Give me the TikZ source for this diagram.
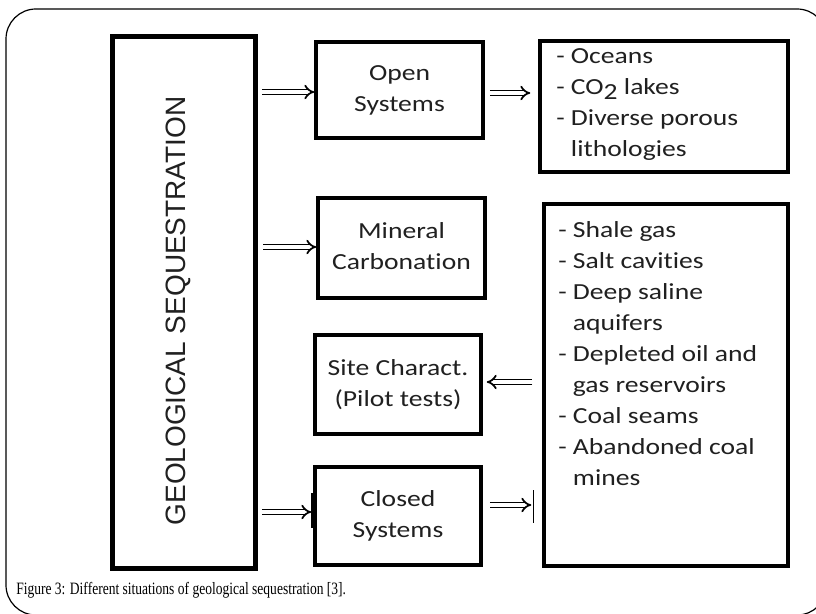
\documentclass[tikz,border=0pt]{standalone}
\usepackage{fontspec}
\setmainfont{Carlito}[Ligatures={NoCommon}]
\newfontfamily\capfont{Liberation Serif}
\newfontfamily\titlefont{Liberation Sans}
\usetikzlibrary{arrows.meta,calc}
\newcommand\pxu{0.75pt}
\newcommand\boxfont{\fontsize{17.25pt}{23.25pt}\selectfont}
\newcommand\wide[1]{\scalebox{1.2}[1]{#1}}
\definecolor{txt}{RGB}{32,32,32}

\begin{document}
\begin{tikzpicture}[x=\pxu, y=-\pxu,
  panel/.style={draw, line width=3.5*\pxu, inner sep=0pt, text=txt},
  listtext/.style={anchor=base west, inner sep=0pt, text=txt},
  dbl/.style={double, double distance=2.3pt, line width=1.3pt, -{Implies}},
  endbar/.style={line width=1.6pt}]
  \useasboundingbox (0,0) rectangle (816,613);
  \fill[white] (0,0) rectangle (816,613);
  \clip (0,0) rectangle (816,613);

  % rounded frame around figure and caption
  \draw[line width=0.9pt, rounded corners=22.5pt] (6,9) rectangle (827,615);

  % main vertical box
  \node[panel, line width=5*\pxu, minimum width=143*\pxu, minimum height=532*\pxu] (big) at (184,302.5) {};
  \node[rotate=90, inner sep=0pt, text=txt] (title) at (178,311)
    {\titlefont\fontsize{21pt}{25pt}\selectfont GEOLOGICAL SEQUESTRATION};

  % middle column
  \node[panel, minimum width=167*\pxu, minimum height=96*\pxu] (open) at (399.5,90)
    {\boxfont\wide{\begin{tabular}{@{}c@{}}Open\\Systems\end{tabular}}};
  \node[panel, minimum width=167*\pxu, minimum height=100*\pxu] (mineral) at (401.5,248)
    {\boxfont\wide{\begin{tabular}{@{}c@{}}Mineral\\Carbonation\end{tabular}}};
  \node[panel, minimum width=166*\pxu, minimum height=99*\pxu] (site) at (398,384.5)
    {\boxfont\wide{\begin{tabular}{@{}c@{}}Site Charact.\\(Pilot tests)\end{tabular}}};
  \node[panel, minimum width=166*\pxu, minimum height=98*\pxu] (closed) at (398,516)
    {\boxfont\wide{\begin{tabular}{@{}c@{}}Closed\\Systems\end{tabular}}};

  % right column
  \node[panel, minimum width=248*\pxu, minimum height=131*\pxu] (rtop) at (664,106.5) {};
  \node[panel, minimum width=244*\pxu, minimum height=362*\pxu] (rbot) at (666,385) {};

  \node[listtext] (toplist) at (556,64)
    {\boxfont\wide{\begin{tabular}[t]{@{}l@{}}- Oceans\\
      - CO\raisebox{-3.5pt}{2} lakes\\
      - Diverse porous\\
      \hphantom{- }lithologies\end{tabular}}};
  \node[listtext] (botlist) at (558,237)
    {\boxfont\wide{\begin{tabular}[t]{@{}l@{}}- Shale gas\\
      - Salt cavities\\
      - Deep saline\\
      \hphantom{- }aquifers\\
      - Depleted oil and\\
      \hphantom{- }gas reservoirs\\
      - Coal seams\\
      - Abandoned coal\\
      \hphantom{- }mines\end{tabular}}};

  % connectors
  \coordinate (oL) at ($(open.west)+(0,2)$);
  \coordinate (oR) at ($(open.east)+(0,3)$);
  \coordinate (mL) at ($(mineral.west)+(0,-1)$);
  \coordinate (sR) at ($(site.east)+(0,-2.5)$);
  \coordinate (cL) at ($(closed.west)+(0,-4)$);
  \coordinate (cR) at ($(closed.east)+(0,-11)$);

  \draw[dbl, shorten <=3pt] (big.east |- oL) -- (oL);
  \draw[dbl, shorten <=3.75pt, shorten >=6pt] (oR) -- (rtop.west |- oR);
  \draw[dbl, shorten <=3.75pt] (big.east |- mL) -- (mL);
  \draw[dbl, shorten <=7.5pt, shorten >=3pt] (rbot.west |- sR) -- (sR);
  \draw[dbl, shorten <=3pt, shorten >=1.5pt] (big.east |- cL) -- (cL);
  \draw[dbl, shorten <=5.25pt, shorten >=8.25pt] (cR) -- (rbot.west |- cR);

  % end bars of the closed-system connectors
  \draw[endbar] ($(closed.west)+(-1,-23)$) -- ++(0,35);
  \draw[line width=1.1pt] ($(rbot.west |- cR)+(-9,-15)$) -- ++(0,33);

  % caption
  \node[anchor=base west, inner sep=0pt] (caption) at (16,594)
    {\scalebox{0.78}[1]{\capfont\fontsize{13pt}{15pt}\selectfont Figure 3: Different situations of geological sequestration [3].}};
\end{tikzpicture}
\end{document}
